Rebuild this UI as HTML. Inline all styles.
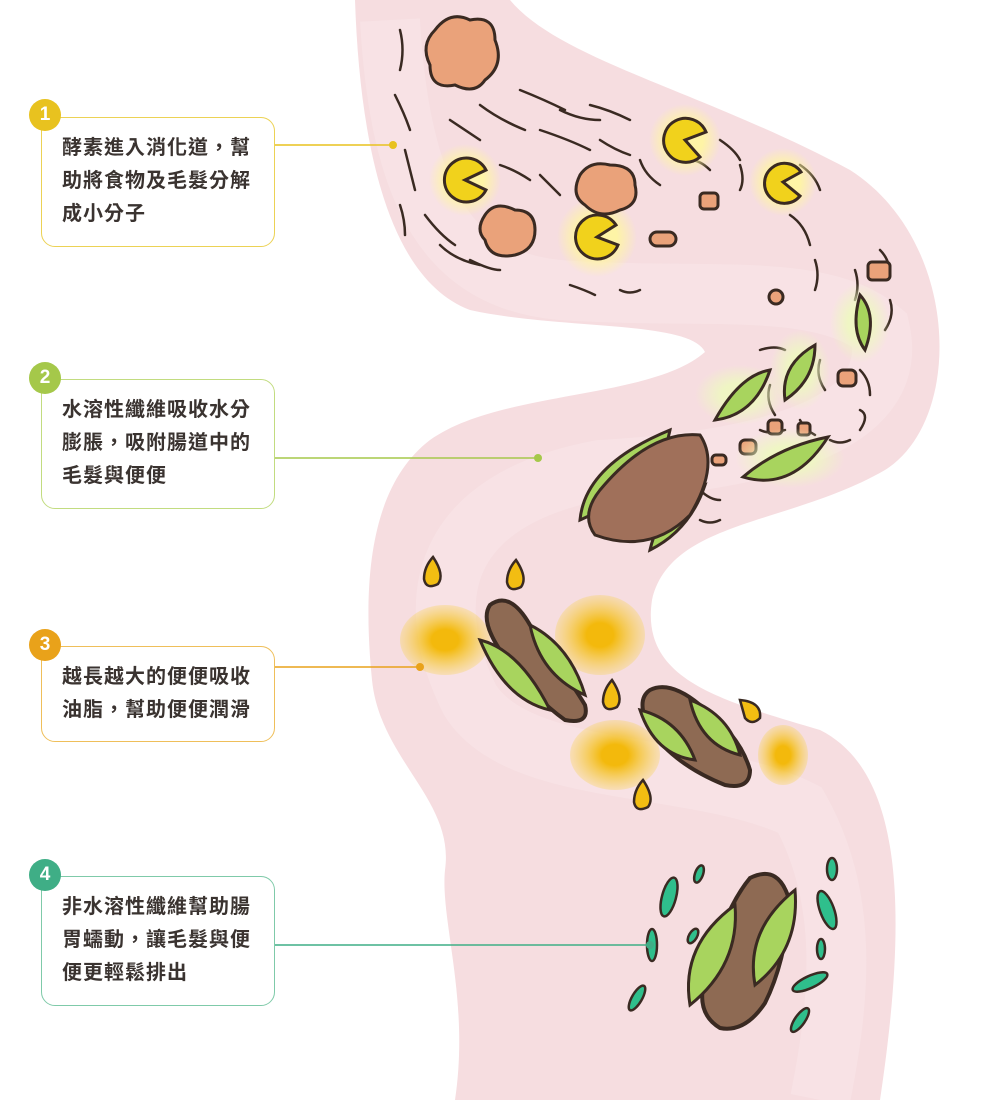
<!DOCTYPE html>
<html><head><meta charset="utf-8"><style>
html,body{margin:0;padding:0;background:#fff;}
body{width:1000px;height:1100px;position:relative;overflow:hidden;font-family:"Liberation Sans","Noto Sans CJK TC",sans-serif;}
.box{position:absolute;left:41px;width:234px;border:1.5px solid;border-radius:14px;background:#fff;box-sizing:border-box;padding:14px 0 0 20px;font-size:20px;line-height:33px;color:#3a3330;letter-spacing:1px;font-weight:bold;}
.num{position:absolute;width:32px;height:32px;border-radius:50%;color:#fff;font-weight:bold;font-size:19px;text-align:center;line-height:32px;left:29px;}
svg{position:absolute;left:0;top:0;}
</style></head><body>
<svg width="1000" height="1100" viewBox="0 0 1000 1100">
<defs>
<radialGradient id="glow"><stop offset="0.5" stop-color="#fff6a0" stop-opacity="0.9"/><stop offset="1" stop-color="#fff6a0" stop-opacity="0"/></radialGradient>
<radialGradient id="oil"><stop offset="0.3" stop-color="#f3b90c"/><stop offset="1" stop-color="#f7d24a" stop-opacity="0.3"/></radialGradient>
<radialGradient id="lglow"><stop offset="0.4" stop-color="#eef8c0" stop-opacity="0.9"/><stop offset="1" stop-color="#eef8c0" stop-opacity="0"/></radialGradient>
</defs>
<path d="M355,0 L510,0 C560,60 700,90 850,170 C960,240 965,420 885,470 C790,525 670,520 652,600 C640,680 720,700 820,730 C900,770 910,900 880,1100 L455,1100 C470,1000 440,920 445,870 C455,800 380,760 372,680 C360,560 378,480 430,440 C500,390 650,400 705,352 C690,320 560,330 470,310 C390,280 360,150 355,0 Z" fill="#f6dde0"/>
<path d="M390,20 C400,200 450,280 560,290 C700,300 820,280 880,330 C900,420 780,460 600,470 C440,500 420,600 470,700 C520,780 700,760 800,810 C850,900 840,1000 820,1100" fill="none" stroke="#f9e8ea" stroke-width="60" opacity="0.5"/>
<g stroke="#3a2a22" stroke-width="2.5" fill="none" stroke-linecap="round">
<path d="M400,30 q5,20 0,40"/><path d="M395,95 q10,20 15,35"/><path d="M405,150 q5,20 10,40"/><path d="M400,205 q5,15 5,30"/><path d="M425,215 q15,20 30,30"/><path d="M440,245 q15,15 40,20"/><path d="M470,260 q20,10 30,10"/><path d="M450,120 q15,10 30,20"/><path d="M480,105 q20,15 45,25"/><path d="M520,90 q25,10 45,20"/><path d="M560,110 q20,10 40,10"/><path d="M540,130 q30,10 50,20"/><path d="M600,140 q15,10 30,15"/><path d="M590,105 q20,5 40,15"/><path d="M500,165 q15,5 30,15"/><path d="M540,175 q10,10 20,20"/><path d="M640,160 q5,15 20,25"/><path d="M720,140 q15,10 20,20"/><path d="M740,165 q5,15 0,25"/><path d="M800,165 q15,10 20,25"/><path d="M790,215 q15,10 20,30"/><path d="M815,260 q5,15 0,30"/><path d="M855,270 q5,15 0,30"/><path d="M880,250 q10,10 10,25"/><path d="M890,300 q5,15 -5,30"/><path d="M760,350 q15,-5 25,0"/><path d="M770,385 q-5,15 5,30"/><path d="M820,360 q-5,15 5,30"/><path d="M860,370 q10,10 10,25"/><path d="M860,410 q10,5 0,20"/><path d="M830,440 q10,5 20,0"/><path d="M760,430 q10,5 25,0"/><path d="M800,420 q5,10 15,15"/><path d="M700,490 q10,10 20,10"/><path d="M700,520 q10,5 20,0"/><path d="M570,285 q15,5 25,10"/><path d="M620,290 q10,5 20,0"/><path d="M690,160 q10,0 20,10"/></g>
<g fill="url(#glow)"><circle cx="465" cy="180" r="36"/><circle cx="685" cy="140" r="36"/><circle cx="783" cy="182" r="34"/><circle cx="597" cy="237" r="40"/></g>
<g fill="#f1d21c" stroke="#3a2a22" stroke-width="3">
<path d="M465,180 L486,170 A22,22 0 1 0 486,190 Z"/>
<path d="M685,140 L700,157 A22,22 0 1 1 706,132 Z"/>
<path d="M783,182 L800,196 A20,20 0 1 1 801,172 Z"/>
<path d="M597,237 L616,225 A22,22 0 1 0 618,245 Z"/></g>
<g fill="#eaa27a" stroke="#3a2a22" stroke-width="3">
<path d="M435,30 q15,-20 35,-10 q25,-5 25,20 q10,25 -10,40 q-10,15 -30,5 q-25,5 -25,-20 q-10,-20 5,-35Z"/>
<path d="M580,175 q10,-15 30,-10 q25,0 25,20 q5,20 -15,25 q-20,10 -35,-5 q-15,-10 -5,-30Z"/>
<path d="M485,215 q10,-15 30,-5 q20,0 20,20 q0,20 -20,25 q-25,5 -30,-15 q-10,-10 0,-25Z"/>
<rect x="700" y="193" width="18" height="16" rx="4"/><rect x="650" y="232" width="26" height="14" rx="7"/><circle cx="776" cy="297" r="7"/><rect x="868" y="262" width="22" height="18" rx="4"/><rect x="838" y="370" width="18" height="16" rx="5"/><rect x="740" y="440" width="16" height="14" rx="5"/><rect x="768" y="420" width="14" height="14" rx="4"/><rect x="798" y="423" width="12" height="12" rx="3"/><rect x="712" y="455" width="14" height="10" rx="4"/></g>
<g fill="url(#lglow)"><ellipse cx="860" cy="323" rx="30" ry="40"/><ellipse cx="800" cy="370" rx="30" ry="40"/><ellipse cx="740" cy="395" rx="45" ry="30"/><ellipse cx="790" cy="458" rx="55" ry="30"/></g>
<g fill="#a8d45e" stroke="#3a2a22" stroke-width="3">
<path d="M860,295 q18,20 5,55 q-15,-20 -5,-55Z"/>
<path d="M815,345 q0,35 -30,55 q-5,-35 30,-55Z"/>
<path d="M770,370 q-30,5 -55,50 q40,-5 55,-50Z"/>
<path d="M828,437 q-50,10 -85,40 q50,15 85,-40Z"/>
<path d="M580,520 q5,-55 90,-90 q-10,55 -90,90Z"/>
<path d="M705,485 q-15,45 -55,65 q10,-45 55,-65Z"/></g>
<path d="M600,490 q50,-60 100,-55 q20,30 -10,80 q-40,40 -95,20 q-15,-20 5,-45Z" fill="#a0705a" stroke="#3a2a22" stroke-width="3"/>
<g fill="url(#oil)"><ellipse cx="445" cy="640" rx="45" ry="35"/><ellipse cx="600" cy="635" rx="45" ry="40"/><ellipse cx="615" cy="755" rx="45" ry="35"/><ellipse cx="783" cy="755" rx="25" ry="30"/></g>
<g fill="#f2bd12" stroke="#3a2a22" stroke-width="2.5">
<path d="M433,557 q12,18 5,27 q-12,6 -14,-5 q0,-12 9,-22Z"/>
<path d="M516,560 q12,18 5,27 q-12,6 -14,-5 q0,-12 9,-22Z"/>
<path d="M612,680 q12,18 5,27 q-12,6 -14,-5 q0,-12 9,-22Z"/>
<path d="M740,700 q22,2 20,18 q-8,8 -15,0Z"/>
<path d="M643,780 q12,18 5,27 q-12,6 -14,-5 q0,-12 9,-22Z"/></g>
<g stroke="#3a2a22" stroke-width="4">
<path d="M490,605 q20,-15 40,20 q40,55 55,80 q5,20 -20,15 q-35,-25 -65,-70 q-20,-30 -10,-45Z" fill="#8e6a53"/>
<path d="M650,690 q20,-10 50,15 q40,30 50,65 q0,20 -25,15 q-50,-20 -75,-55 q-15,-30 0,-40Z" fill="#8e6a53"/>
<path d="M750,878 q30,-15 40,25 q-5,60 -25,100 q-20,30 -45,25 q-25,-15 -15,-50 q20,-70 45,-100Z" fill="#8e6a53"/></g>
<g fill="#a8d45e" stroke="#3a2a22" stroke-width="3">
<path d="M480,640 q40,10 70,70 q-45,-10 -70,-70Z"/><path d="M530,625 q40,20 55,70 q-45,-20 -55,-70Z"/>
<path d="M640,710 q40,10 55,50 q-40,-5 -55,-50Z"/><path d="M690,700 q40,15 50,55 q-40,-10 -50,-55Z"/>
<path d="M735,905 q5,60 -45,100 q-10,-60 45,-100Z"/><path d="M795,890 q5,60 -40,95 q-10,-55 40,-95Z"/></g>
<g fill="#2fbf8c" stroke="#3a2a22" stroke-width="2.5">
<ellipse cx="669" cy="897" rx="7" ry="20" transform="rotate(15 669 897)"/><ellipse cx="699" cy="874" rx="4" ry="9" transform="rotate(20 699 874)"/><ellipse cx="652" cy="945" rx="5" ry="16"/><ellipse cx="693" cy="936" rx="4" ry="8" transform="rotate(30 693 936)"/><ellipse cx="637" cy="998" rx="5" ry="14" transform="rotate(30 637 998)"/><ellipse cx="832" cy="869" rx="5" ry="11"/><ellipse cx="827" cy="910" rx="7" ry="20" transform="rotate(-20 827 910)"/><ellipse cx="821" cy="949" rx="4" ry="10"/><ellipse cx="810" cy="982" rx="6" ry="19" transform="rotate(65 810 982)"/><ellipse cx="800" cy="1020" rx="5" ry="14" transform="rotate(35 800 1020)"/></g>
<g stroke-width="1.5"><line x1="273" y1="145" x2="393" y2="145" stroke="#e8c21f"/><circle cx="393" cy="145" r="4" fill="#e8c21f"/>
<line x1="273" y1="458" x2="538" y2="458" stroke="#a5c84a"/><circle cx="538" cy="458" r="4" fill="#a5c84a"/>
<line x1="273" y1="667" x2="420" y2="667" stroke="#e9a21a"/><circle cx="420" cy="667" r="4" fill="#e9a21a"/>
<line x1="273" y1="945" x2="650" y2="945" stroke="#3fae86"/><circle cx="650" cy="945" r="4" fill="#3fae86"/></g>
</svg>
<div class="box" style="top:117px;height:130px;border-color:#ecd255;">酵素進入消化道，幫<br>助將食物及毛髮分解<br>成小分子</div>
<div class="num" style="top:99px;background:#e8c21f;">1</div>
<div class="box" style="top:379px;height:130px;border-color:#c2dc80;">水溶性纖維吸收水分<br>膨脹，吸附腸道中的<br>毛髮與便便</div>
<div class="num" style="top:362px;background:#a5c84a;">2</div>
<div class="box" style="top:646px;height:96px;border-color:#efbf5a;">越長越大的便便吸收<br>油脂，幫助便便潤滑</div>
<div class="num" style="top:629px;background:#e9a21a;">3</div>
<div class="box" style="top:876px;height:130px;border-color:#7fcaa9;">非水溶性纖維幫助腸<br>胃蠕動，讓毛髮與便<br>便更輕鬆排出</div>
<div class="num" style="top:859px;background:#3fae86;">4</div>
</body></html>
